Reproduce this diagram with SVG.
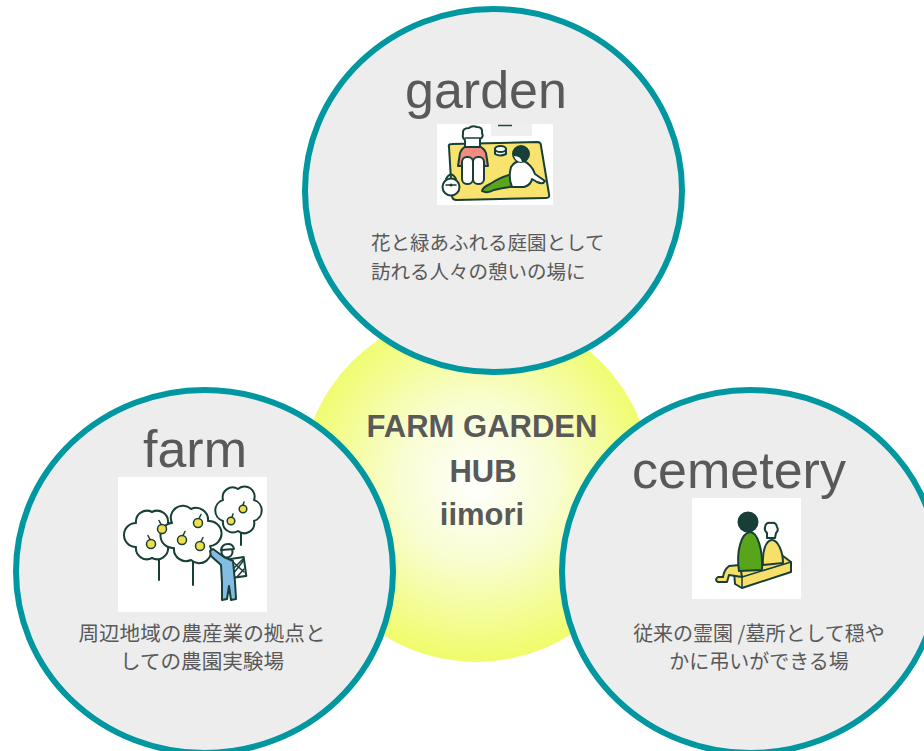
<svg xmlns="http://www.w3.org/2000/svg" width="924" height="751" viewBox="0 0 924 751">
  <defs>
    <radialGradient id="hubGlow" cx="477" cy="482" r="178" gradientUnits="userSpaceOnUse">
      <stop offset="0" stop-color="#ffffff"/>
      <stop offset="0.45" stop-color="#f9fdd0"/>
      <stop offset="1" stop-color="#f0fc6c"/>
    </radialGradient>
    <style>
      .ring { fill: #ededed; stroke: #0097a0; stroke-width: 6; }
      .title { font-family: "Liberation Sans", Arial, sans-serif; font-size: 52px; fill: #595959; }
      .hub { font-family: "Liberation Sans", Arial, sans-serif; font-size: 31px; font-weight: bold; fill: #595959; text-anchor: middle; }
      .desc { font-family: "Noto Sans CJK JP", "Noto Sans", sans-serif; font-size: 19.5px; fill: #595959; }
      .ink { stroke: #173f38; stroke-width: 2; stroke-linejoin: round; stroke-linecap: round; }
      .thin { stroke: #173f38; stroke-width: 1.5; stroke-linejoin: round; stroke-linecap: round; fill: none; }
      .fruit { fill: #f0df4a; stroke: #173f38; stroke-width: 1.5; }
    </style>
  </defs>

  <rect width="924" height="751" fill="#ffffff"/>

  <!-- central hub -->
  <g id="hub">
    <circle cx="476.5" cy="486" r="176" fill="url(#hubGlow)"/>
  </g>

  <!-- garden -->
  <g id="garden">
    <ellipse class="ring" cx="493.5" cy="190.5" rx="188.5" ry="181.5"/>
    <text class="title" x="486" y="108" text-anchor="middle">garden</text>
    <g id="garden-picture">
      <rect x="437" y="124" width="116" height="81" fill="#ffffff"/>
      <rect x="491" y="124" width="41" height="12" fill="#efefef"/>
      <line x1="498" y1="125.5" x2="512" y2="125.5" stroke="#1d4a40" stroke-width="1.5"/>
      <!-- picnic mat -->
      <path class="ink" fill="#f7e36e" d="M449,147 Q448,144 452,144 L537,142 Q541,142 541,146 L549,194 Q550,198 546,198 L457,200 Q452,200 452,196 Z"/>
      <!-- seated person -->
      <path class="ink" fill="#f28b82" d="M458,166 L460,153 Q463,145 472,145 Q483,145 486,153 L488,166 Z"/>
      <path class="ink" fill="#ffffff" d="M465,147 L465,140 Q462,138 463,134 Q462,128 469,128 Q472,125 477,127 Q483,127 482,133 Q484,137 480,139 L480,147 Z"/>
      <line class="thin" x1="465" y1="138" x2="480" y2="138"/>
      <rect class="ink" fill="#ffffff" x="462" y="157" width="11" height="27" rx="5"/>
      <rect class="ink" fill="#ffffff" x="473" y="157" width="11" height="27" rx="5"/>
      <!-- cake -->
      <path class="ink" fill="#ffffff" d="M495,149 L495,154 Q500,157 506,154 L506,149 Z"/>
      <ellipse class="ink" fill="#ffffff" cx="500.5" cy="149" rx="5.5" ry="3"/>
      <!-- reclining person -->
      <path class="ink" fill="#5aa41e" d="M515,173 Q500,177 490,184 Q483,187 482,191 Q487,194 494,190 Q506,187 519,186 Z"/>
      <path class="ink" fill="#ffffff" d="M511,167 Q515,160 524,161 Q532,165 535,174 L545,181 Q543,185 537,182 L532,179 Q531,185 524,187 L512,187 Q508,178 511,167 Z"/>
      <circle class="ink" fill="#173f38" cx="521" cy="154" r="8"/>
      <path fill="#ffffff" d="M514,156 q2,6 8,6 q-1,-6 -8,-6 Z"/>
      <!-- bag -->
      <path class="ink" fill="none" d="M446,179 q5,-9 10,0"/>
      <circle class="ink" fill="#ffffff" cx="451" cy="187" r="8.5"/>
      <line class="thin" x1="446" y1="185" x2="456" y2="185"/>
      <circle fill="#173f38" cx="451" cy="185" r="1.6"/>
    </g>
    <text class="desc" x="371" y="250">花と緑あふれる庭園として</text>
    <text class="desc" x="371" y="279">訪れる人々の憩いの場に</text>
  </g>

  <!-- farm -->
  <g id="farm">
    <ellipse class="ring" cx="204.5" cy="571.5" rx="188.5" ry="181.5"/>
    <text class="title" x="195" y="467" text-anchor="middle">farm</text>
    <g id="farm-picture">
      <rect x="118" y="477" width="149" height="135" fill="#ffffff"/>
      <!-- trunks -->
      <line class="ink" x1="159" y1="556" x2="159" y2="580"/>
      <line class="ink" x1="193" y1="558" x2="193" y2="585"/>
      <line class="ink" x1="241" y1="530" x2="241" y2="545"/>
      <!-- tree crowns -->
      <path class="ink" fill="#ffffff" d="M152,512 A11,11 0 0 1 168,523 A11,11 0 0 1 168,547 A11,11 0 0 1 152,558 A11,11 0 0 1 136,547 A11,11 0 0 1 136,523 A11,11 0 0 1 152,512 Z"/>
      <path class="ink" fill="#ffffff" d="M191,509 A12,12 0 0 1 208,521 A12,12 0 0 1 210,546 A12,12 0 0 1 191,560 A12,12 0 0 1 174,548 A12,12 0 0 1 172,523 A12,12 0 0 1 191,509 Z"/>
      <path class="ink" fill="#ffffff" d="M238,489 A10,10 0 0 1 254,500 A11,11 0 0 1 254,521 A10,10 0 0 1 238,531 A10,10 0 0 1 223,521 A11,11 0 0 1 223,500 A10,10 0 0 1 238,489 Z"/>
      <!-- fruit -->
      <g>
        <circle class="fruit" cx="162" cy="529" r="4.5"/><path class="thin" d="M161,524.5 l-2,-4"/>
        <circle class="fruit" cx="151" cy="544" r="4.5"/><path class="thin" d="M150,539.5 l-2,-4"/>
        <circle class="fruit" cx="198" cy="523" r="4.5"/><path class="thin" d="M199,518.5 l2,-4"/>
        <circle class="fruit" cx="182" cy="540" r="4.5"/><path class="thin" d="M183,535.5 l2,-4"/>
        <circle class="fruit" cx="200" cy="546" r="4.5"/><path class="thin" d="M201,541.5 l2,-4"/>
        <circle class="fruit" cx="243" cy="509" r="3.8"/><path class="thin" d="M243,505 l1,-3"/>
        <circle class="fruit" cx="231" cy="521" r="3.8"/><path class="thin" d="M232,517 l1,-3"/>
      </g>
      <!-- picker -->
      <rect class="ink" fill="#ffffff" x="232" y="558" width="13" height="19" transform="rotate(-8 238 567)"/>
      <path class="thin" d="M233,562 l11,10 M234,568 l9,-9 M233,574 l11,-14 M237,577 l7,-8"/>
      <path class="ink" fill="#83bde3" d="M210,551 L213,549 L224,557 L233,561 L235,582 L236,599 L231,600 L229,586 L227,599 L222,600 L222,583 L221,565 L211,556 Z"/>
      <circle class="ink" fill="#ffffff" cx="227" cy="552" r="5.5"/>
      <path class="ink" fill="#ffffff" d="M221,550 q1,-6 7,-6 q5,0 6,5 Z"/>
    </g>
    <text class="desc" x="202" y="641" text-anchor="middle" style="font-size:20.6px">周辺地域の農産業の拠点と</text>
    <text class="desc" x="202" y="669" text-anchor="middle" style="font-size:20.6px">しての農園実験場</text>
  </g>

  <!-- cemetery -->
  <g id="cemetery">
    <ellipse class="ring" cx="750.5" cy="571.5" rx="188.5" ry="181.5"/>
    <text class="title" x="739" y="488" text-anchor="middle">cemetery</text>
    <g id="cemetery-picture">
      <rect x="692" y="498" width="109" height="101" fill="#ffffff"/>
      <!-- stone bench -->
      <path class="ink" fill="#f7e06a" d="M734,571 L783,556 L791,562 L791,572 L742,588 L735,584 Z"/>
      <path class="thin" d="M734,571 L742,577 L791,562 M742,577 L742,588"/>
      <!-- legs of the green figure -->
      <path class="ink" fill="#f7e06a" d="M740,565 L729,566 Q724,570 723,577 L718,577 Q714,580 718,582 L727,582 L729,575 L742,577 Z"/>
      <!-- green figure -->
      <path class="ink" fill="#58a51c" d="M739,571 C736,552 741,533 750,532 C758,532 763,551 762,570 Z"/>
      <circle class="ink" fill="#173f38" cx="748" cy="522" r="9.5"/>
      <!-- small yellow figure -->
      <path class="ink" fill="#f7e06a" d="M763,565 C762,551 766,540 772,540 C778,540 783,552 783,563 Z"/>
      <path class="ink" fill="#ffffff" d="M765,527 q1,-5 6,-4 q5,-1 6,4 q2,3 -1,6 l-1,5 l-8,0 l0,-5 q-3,-3 -2,-6 Z"/>
    </g>
    <text class="desc" x="759" y="641" text-anchor="middle" style="font-size:20px">従来の霊園 /墓所として穏や</text>
    <text class="desc" x="759" y="669" text-anchor="middle" style="font-size:20px">かに弔いができる場</text>
  </g>

  <!-- hub label drawn above the rings -->
  <g id="hub-label">
    <text class="hub" x="482" y="437">FARM GARDEN</text>
    <text class="hub" x="483" y="482">HUB</text>
    <text class="hub" x="482" y="525">iimori</text>
  </g>

  <g id="connectors"/>
</svg>
